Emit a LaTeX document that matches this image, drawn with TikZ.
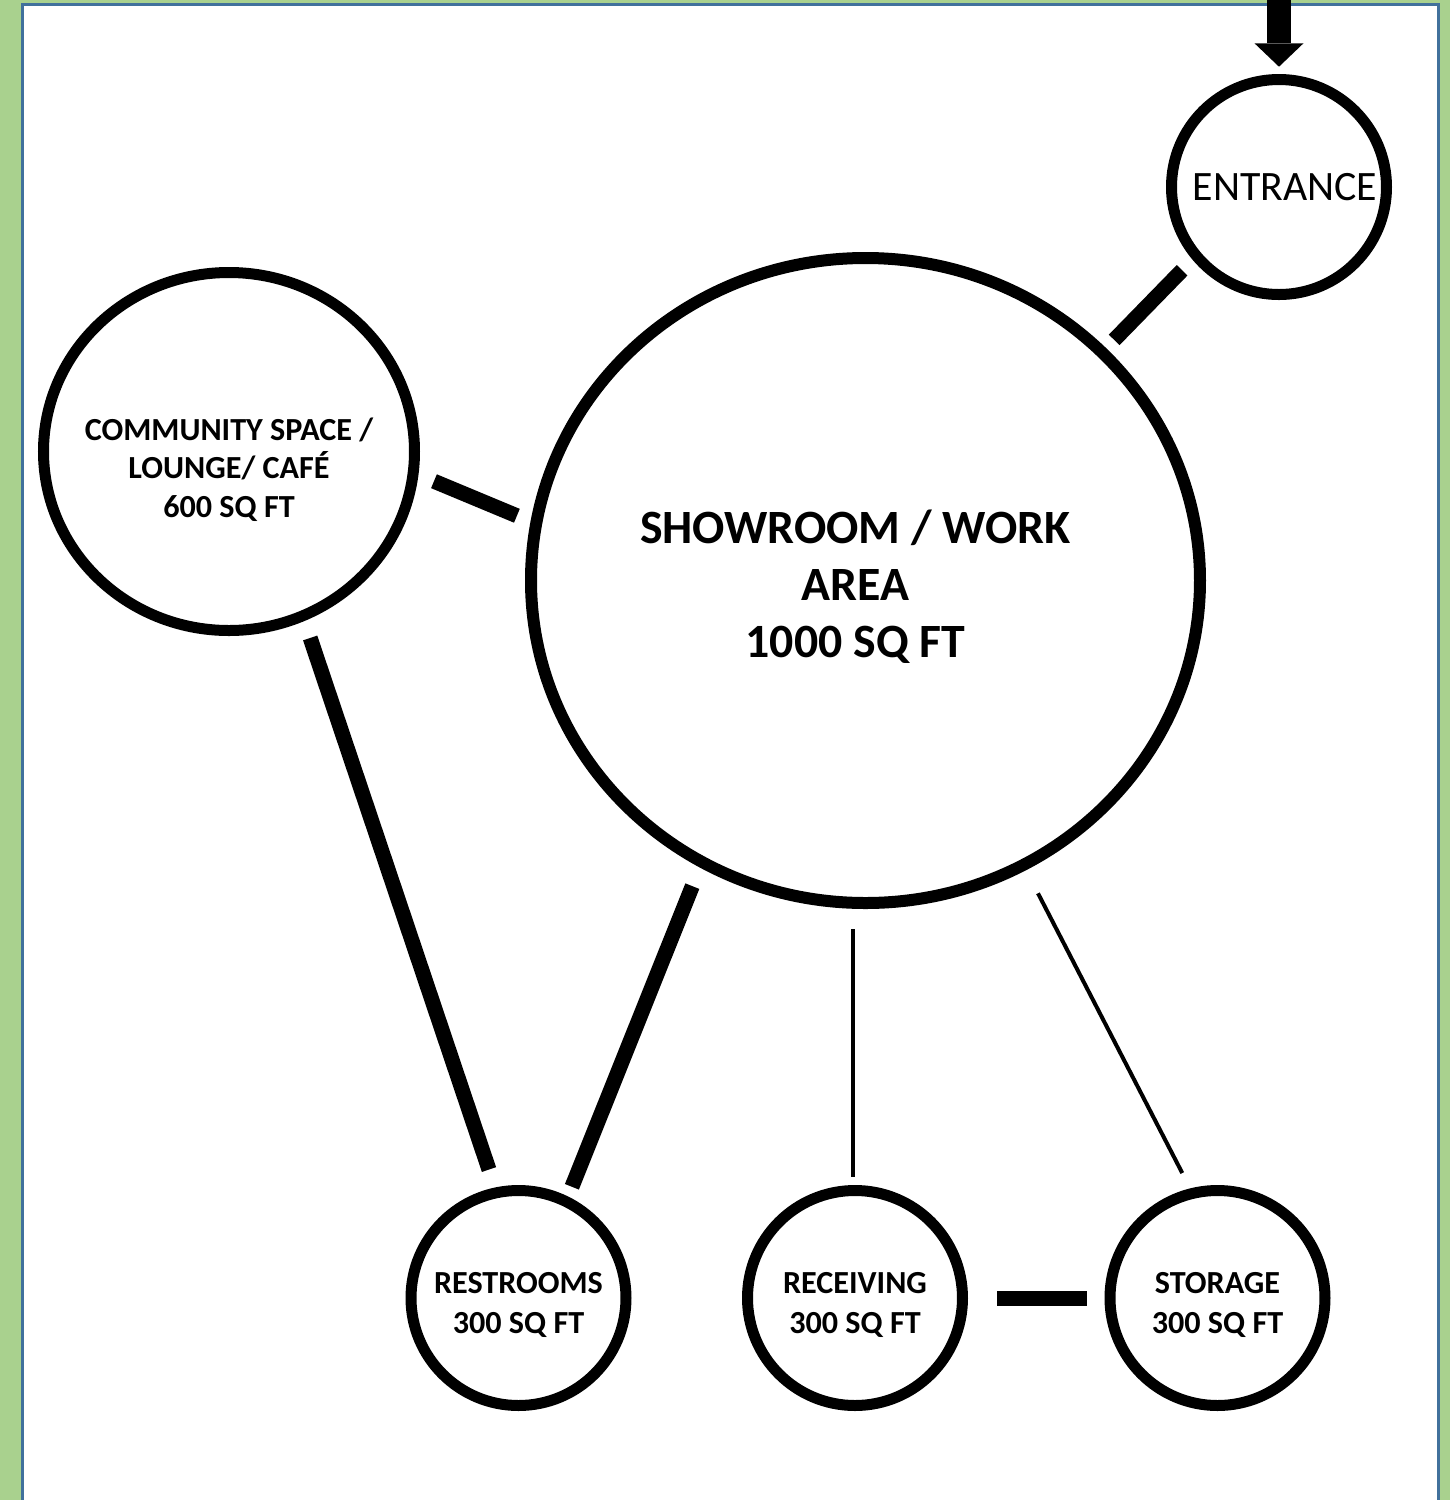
\documentclass[tikz,border=0pt]{standalone}
\usepackage{fontspec}
\setmainfont{Carlito}
\usetikzlibrary{shapes.geometric,arrows.meta}

\definecolor{pagegreen}{HTML}{A9D18E}
\definecolor{frameblue}{HTML}{41719C}

\tikzset{
  room/.style={draw, ellipse, line width=0.11cm, fill=white, inner sep=0pt},
  roomtext/.style={font=\fontsize{9.15}{11.4}\selectfont\bfseries, align=center},
  wall/.style={line width=0.15cm},
  hall/.style={line width=0.04cm},
}

\begin{document}
\begin{tikzpicture}

% Page and frame
\useasboundingbox (0,0) rectangle (14.5,-15);
\fill[pagegreen] (0,0) rectangle (14.5,-15);
\filldraw[fill=white, draw=frameblue, line width=0.03cm] (0.225,-0.042) rectangle (14.385,-15.3);

% Rooms
\node[room, line width=0.12cm, minimum width=6.69cm, minimum height=6.45cm,
  label={[roomtext, font=\fontsize{13.6}{16.2}\selectfont\bfseries, xshift=-0.1cm, yshift=-0.06cm]center:{SHOWROOM / WORK\\AREA\\1000 SQ FT}}] (show) at (8.655,-5.805) {};
\node[room, minimum size=2.15cm,
  label={[font=\fontsize{11.9}{14}\selectfont, xshift=0.06cm]center:ENTRANCE}] (ent) at (12.79,-1.87) {};
\node[room, minimum width=3.71cm, minimum height=3.58cm,
  label={[roomtext, font=\fontsize{9.15}{11}\selectfont\bfseries, yshift=-0.18cm]center:{COMMUNITY SPACE /\\LOUNGE/ CAFÉ\\600 SQ FT}}] (comm) at (2.29,-4.515) {};
\node[room, minimum size=2.15cm,
  label={[roomtext, yshift=-0.07cm]center:{RESTROOMS\\300 SQ FT}}] (rest) at (5.185,-12.98) {};
\node[room, minimum size=2.15cm,
  label={[roomtext, yshift=-0.07cm]center:{RECEIVING\\300 SQ FT}}] (recv) at (8.55,-12.98) {};
\node[room, minimum size=2.15cm,
  label={[roomtext, yshift=-0.07cm]center:{STORAGE\\300 SQ FT}}] (stor) at (12.175,-12.98) {};

% Way in
\coordinate (door) at (12.79,0.1);
\draw[line width=0.237cm, -{Triangle[length=0.234cm, width=0.49cm, line width=0pt]}, shorten >=0.073cm] (door) -- (ent.north);

% Links between rooms
\draw[wall, shorten <=0.115cm, shorten >=0.148cm] (show.44) -- (ent.220.7);
\draw[wall, shorten <=0.168cm, shorten >=0.148cm] (comm.-7.6) -- (show.170.6);
\draw[wall, shorten <=0.179cm, shorten >=0.189cm] (comm.-66.6) -- (rest.102.3);
\draw[wall, shorten <=0.201cm, shorten >=0.104cm] (show.240.5) -- (rest.64.6);
\draw[hall, shorten <=0.20cm, shorten >=0.077cm] (recv.91.5 |- show.south) -- (recv.91.5);
\draw[hall, shorten <=0.26cm, shorten >=0.172cm] (show.-61.6) -- (stor.104.6);
\draw[wall, shorten <=0.29cm, shorten >=0.175cm] (recv.east) -- (stor.west);

\end{tikzpicture}
\end{document}
